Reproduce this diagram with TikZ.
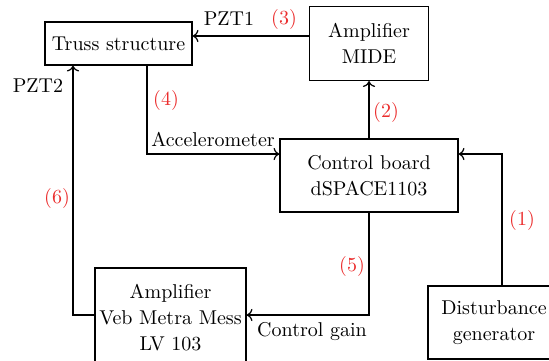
\documentclass[tikz,border=0pt]{standalone}
\usepackage{tikz}
\usetikzlibrary{
    positioning,
    arrows.meta,
    calc
}
\usepackage{xcolor}
\definecolor{steplabel}{RGB}{235,45,45}

\begin{document}
\begin{tikzpicture}[
    x=0.5pt, y=-0.5pt,
    block/.style={
        rectangle,
        draw=black,
        line width=0.6pt,
        align=center,
        inner sep=2pt,
        font=\fontsize{10}{13}\selectfont
    },
    link/.style={->, line width=0.6pt},
    num/.style={text=steplabel, font=\fontsize{10}{12}\selectfont},
    tag/.style={font=\fontsize{10}{12}\selectfont}
]
\useasboundingbox (0,0) rectangle (549,360);

% Blocks
\node[block, minimum width=73.5pt, minimum height=21.5pt] (truss) at (118.5,43.5) {Truss structure};
\node[block, minimum width=59.5pt, minimum height=37pt] (mide) at (369,43.5) {Amplifier\\MIDE};
\node[block, minimum width=89pt, minimum height=36.5pt] (board) at (369,175.5) {Control board\\dSPACE1103};
\node[block, minimum width=75.5pt, minimum height=50pt] (veb) at (170.5,318) {Amplifier\\Veb Metra Mess\\LV 103};
\node[block, minimum width=66pt, minimum height=36.5pt] (dist) at (494,322.5) {Disturbance\\generator};

% Connectors
\draw[link] ([xshift=4pt]dist.north) |- ([yshift=10.75pt]board.east);
\draw[link] (board.north) -- (mide.south);
\draw[link] ([yshift=3.75pt]mide.west) -- ([yshift=3.75pt]truss.east);
\draw[link] ([xshift=14.25pt]truss.south) |- ([yshift=10.75pt]board.west);
\draw[link] (board.south) |- ([yshift=1.5pt]veb.east);
\draw[link] ([yshift=1.5pt]veb.west) -| ([xshift=-22.75pt]truss.south);

% Signal names
\node[tag] (pzt1) at (229,19) {PZT1};
\node[tag] (pzt2) at (38,86) {PZT2};
\node[tag] (acc) at (213,139) {Accelerometer};
\node[tag] (gain) at (312,331) {Control gain};

% Step numbers
\node[num] (n1) at (522,220) {(1)};
\node[num] (n2) at (386,112) {(2)};
\node[num] (n3) at (284,19) {(3)};
\node[num] (n4) at (166,100) {(4)};
\node[num] (n5) at (352,266) {(5)};
\node[num] (n6) at (57,198) {(6)};

\end{tikzpicture}
\end{document}
